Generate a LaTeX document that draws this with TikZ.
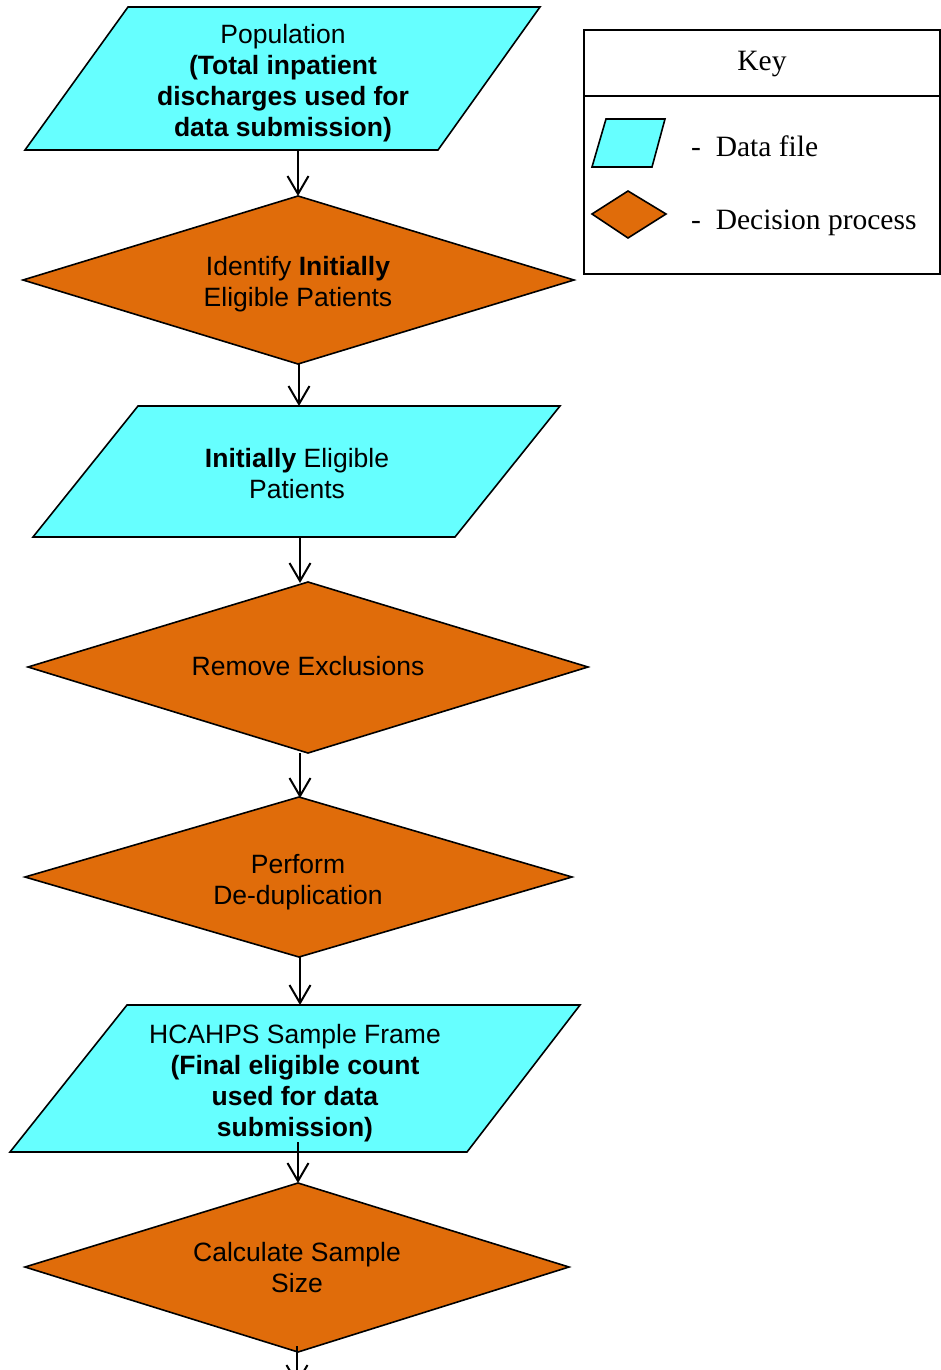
\documentclass[tikz,border=0pt]{standalone}
\usepackage{fontspec}
\setmainfont{Liberation Serif}
\setsansfont{Liberation Sans}
\usetikzlibrary{arrows.meta}
\definecolor{datacyan}{RGB}{102,255,255}
\definecolor{decorange}{RGB}{224,108,10}
\tikzset{
  datafile/.style={draw=black, line width=1.6pt, fill=datacyan, line join=miter},
  decision/.style={draw=black, line width=1.6pt, fill=decorange, line join=miter},
  flow/.style={draw=black, line width=2pt, -{Straight Barb[length=18pt,width=21pt]}},
  lbl/.style={font=\sffamily\fontsize{26.5}{31}\selectfont, align=center, inner sep=0pt, text=black},
  keytxt/.style={font=\rmfamily\fontsize{29.5}{34}\selectfont, inner sep=0pt, anchor=base west, text=black},
  keybox/.style={draw=black, line width=1.4pt},
}
\begin{document}
\begin{tikzpicture}[x=1pt,y=-1pt]
\useasboundingbox (0,0) rectangle (941,1370);

% ---- shapes ----
\draw[datafile] (128,7) -- (540,7) -- (438,150) -- (25,150) -- cycle;
\draw[decision] (298,196) -- (574,280) -- (298,364) -- (23,280) -- cycle;
\draw[datafile] (138,406) -- (560,406) -- (455,537) -- (33,537) -- cycle;
\draw[decision] (308,582) -- (588,667) -- (308,753) -- (28,667) -- cycle;
\draw[decision] (299,797) -- (572,877) -- (299,957) -- (25,877) -- cycle;
\draw[datafile] (127,1005) -- (580,1005) -- (467,1152) -- (10,1152) -- cycle;
\draw[decision] (298,1183) -- (569,1267) -- (298,1352) -- (25,1267) -- cycle;

% ---- labels ----
\node[lbl] (pop) at (283,83) {Population\\\textbf{(Total inpatient}\\\textbf{discharges used for}\\\textbf{data submission)}};
\node[lbl] (ident) at (298,284) {Identify \textbf{Initially}\\Eligible Patients};
\node[lbl] (init) at (297,474) {\textbf{Initially} Eligible\\Patients};
\node[lbl] (remove) at (308,666) {Remove Exclusions};
\node[lbl] (dedup) at (298,882) {Perform\\De-duplication};
\node[lbl] (frame) at (295,1083) {HCAHPS Sample Frame\\\textbf{(Final eligible count}\\\textbf{used for data}\\\textbf{submission)}};
\node[lbl] (calc) at (297,1268) {Calculate Sample\\Size};

% ---- connector end points ----
\coordinate (p1b) at (298,150);  \coordinate (d1t) at (298,196);
\coordinate (d1b) at (299,364);  \coordinate (p2t) at (299,406);
\coordinate (p2b) at (300,537);  \coordinate (d2t) at (300,583);
\coordinate (d2b) at (300,753);  \coordinate (d3t) at (300,798);
\coordinate (d3b) at (300,957);  \coordinate (p3t) at (300,1005);
\coordinate (p3b) at (298,1142); \coordinate (d4t) at (298,1183);
\coordinate (d4b) at (297,1346); \coordinate (out) at (297,1385);

\draw[flow] (p1b) -- (d1t);
\draw[flow] (d1b) -- (p2t);
\draw[flow] (p2b) -- (d2t);
\draw[flow] (d2b) -- (d3t);
\draw[flow] (d3b) -- (p3t);
\draw[flow] (p3b) -- (d4t);
\draw[flow] (d4b) -- (out);

% ---- key ----
\draw[keybox] (584,30) rectangle (940,274);
\draw[keybox] (584,96) -- (940,96);
\node[font=\rmfamily\fontsize{29.5}{34}\selectfont, inner sep=0pt] (keytitle) at (762,64) {Key};
\draw[datafile] (606,119) -- (665,119) -- (652,167) -- (592,167) -- cycle;
\draw[decision] (628,191) -- (666,214) -- (628,238) -- (592,214) -- cycle;
\node[keytxt] (kdata) at (691,157) {-\hspace{0.5em}Data file};
\node[keytxt] (kdec) at (691,229) {-\hspace{0.5em}Decision process};
\end{tikzpicture}
\end{document}
